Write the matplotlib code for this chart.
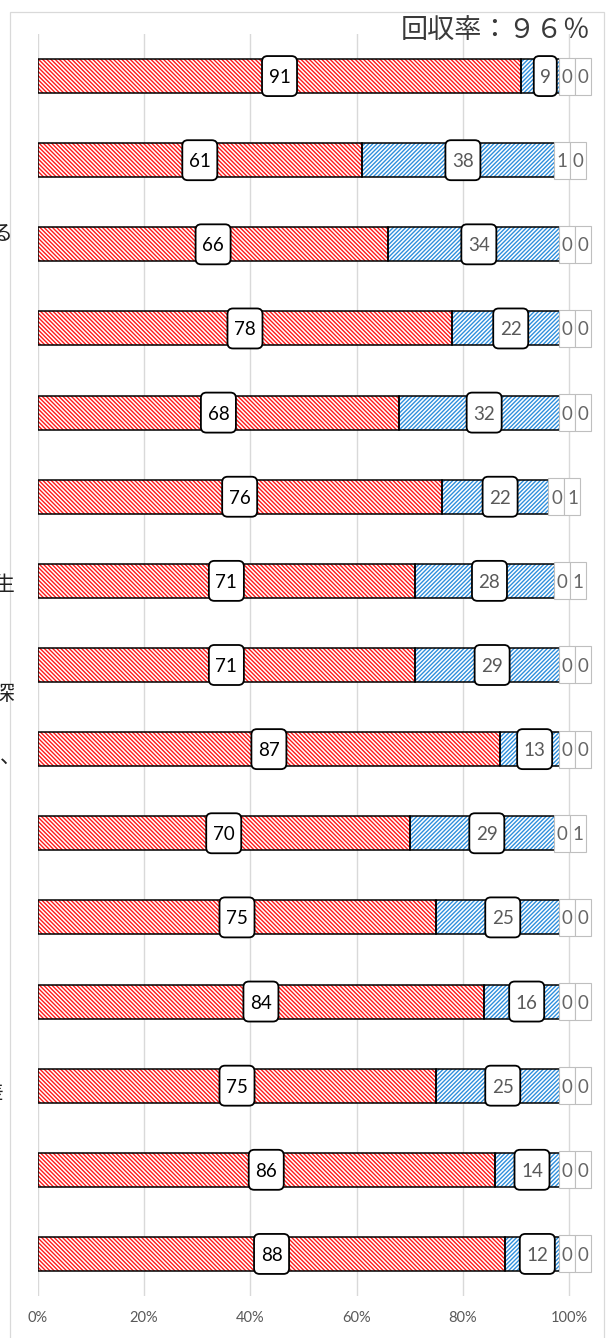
import matplotlib
matplotlib.use('Agg')
import matplotlib.pyplot as plt
from matplotlib.patches import FancyBboxPatch, Rectangle
import numpy as np

# ---------------- data ----------------
red = [91, 61, 66, 78, 68, 76, 71, 71, 87, 70, 75, 84, 75, 86, 88]
blue = [9, 38, 34, 22, 32, 22, 28, 29, 13, 29, 25, 16, 25, 14, 12]
third = [0, 1, 0, 0, 0, 0, 0, 0, 0, 0, 0, 0, 0, 0, 0]
fourth = [0, 0, 0, 0, 0, 1, 1, 0, 0, 1, 0, 0, 0, 0, 0]
tick_values = [0, 20, 40, 60, 80, 100]
tick_labels = ['0%', '20%', '40%', '60%', '80%', '100%']
title_text = '回収率：９６％'
# visible (clipped) fragments of the category labels at the left edge
fragments = ['る', '生', '深', '、', '差']

# ---------------- style / layout ----------------
W, H = 606, 1338
plt.rcParams['hatch.linewidth'] = 1.0
NUM_FONT = ['Lato', 'DejaVu Sans']
CJK_FONT = ['Noto Sans CJK JP', 'DejaVu Sans']

fig = plt.figure(figsize=(W / 100, H / 100), dpi=100)

X0_PX = 37.7           # pixel position of 0%
XMAX = 106.0
PXU = 5.315            # pixels per x unit
AX_RIGHT_PX = X0_PX + XMAX * PXU
AX_TOP_PX, AX_BOT_PX = 34.0, 1296.0
n = len(red)
PYU = (AX_BOT_PX - AX_TOP_PX) / n

ax = fig.add_axes([X0_PX / W, 1 - AX_BOT_PX / H,
                   (AX_RIGHT_PX - X0_PX) / W, (AX_BOT_PX - AX_TOP_PX) / H])
ax.set_xlim(0, XMAX)
ax.set_ylim(n - 0.5, -0.5)
for s in ax.spines.values():
    s.set_visible(False)
ax.set_axisbelow(True)
ax.set_xticks(tick_values)
ax.set_xticklabels(tick_labels, fontfamily=NUM_FONT)
ax.tick_params(axis='x', length=0, pad=11, labelsize=10.5, labelcolor='#595959')
ax.set_yticks([])
ax.grid(axis='x', color='#d9d9d9', linewidth=1.0)

y = np.arange(n)
red_a = np.array(red, float)
blue_a = np.array(blue, float)
third_a = np.array(third, float)
fourth_a = np.array(fourth, float)
BAR_H = 34.0 / PYU

RED = '#ff1a1a'
BLUE = '#2f8fdc'

# red segments
ax.barh(y, red_a, height=BAR_H, color='white', edgecolor=RED,
        hatch='\\' * 8, linewidth=0, zorder=2)
ax.barh(y, red_a, height=BAR_H, fill=False, edgecolor='black',
        linewidth=1.1, zorder=3)
# blue segments
ax.barh(y, blue_a, left=red_a, height=BAR_H, color='white', edgecolor=BLUE,
        hatch='/' * 8, linewidth=0, zorder=2)
ax.barh(y, blue_a, left=red_a, height=BAR_H, fill=False, edgecolor='black',
        linewidth=1.1, zorder=3)
# small 3rd / 4th segments
ax.barh(y, third_a, left=red_a + blue_a, height=BAR_H, color='white',
        edgecolor='#bfbfbf', linewidth=0.6, zorder=2)
ax.barh(y, fourth_a, left=red_a + blue_a + third_a, height=BAR_H,
        color='white', edgecolor='#bfbfbf', linewidth=0.6, zorder=2)

ASPECT = PXU / PYU


def label_box(xc, yc, wpx, hpx, text, ec, lw, tcolor, rounded=True):
    w = wpx / PXU
    h = hpx / PYU
    if rounded:
        style = 'round,pad=0,rounding_size=%f' % (5.5 / PXU)
    else:
        style = 'square,pad=0'
    p = FancyBboxPatch((xc - w / 2, yc - h / 2), w, h, boxstyle=style,
                       mutation_aspect=ASPECT, facecolor='white',
                       edgecolor=ec, linewidth=lw, zorder=5)
    ax.add_patch(p)
    ax.text(xc, yc, text, ha='center', va='center_baseline', fontsize=13.5,
            color=tcolor, fontfamily=NUM_FONT, zorder=6)


for i in range(n):
    r, b, t3, t4 = red[i], blue[i], third[i], fourth[i]
    wr = 35 if len(str(r)) > 1 else 23
    label_box(r / 2, i, wr, 40, str(r), 'black', 1.3, 'black')
    wb = 35 if len(str(b)) > 1 else 23
    label_box(r + b / 2, i, wb, 40, str(b), 'black', 1.3, '#595959')
    gw = 16
    left3 = r + b - 1.9
    c3 = left3 + gw / PXU / 2
    label_box(c3, i, gw, 37, str(t3), '#bfbfbf', 0.8, '#666666', rounded=False)
    label_box(c3 + gw / PXU, i, gw, 37, str(t4), '#bfbfbf', 0.8, '#666666',
              rounded=False)

# title
fig.text(591 / W, 1 - 30 / H, title_text, ha='right', va='center',
         fontsize=19.5, fontfamily=CJK_FONT, color='#3a3a3a')

# clipped category label fragments on the left edge (cut in the original too)
frag_pos = [(2, 234), (4, 585), (4, 694), (10, 757), (-7, 1092)]
for txt, (px, py) in zip(fragments, frag_pos):
    fig.text(px / W, 1 - py / H, txt, ha='center', va='center', fontsize=15,
             fontfamily=CJK_FONT, color='#222222')

# outer chart frame
fig.add_artist(Rectangle((10 / W, -0.01), (604 - 10) / W, 1 - 12 / H + 0.01,
                         transform=fig.transFigure, fill=False,
                         edgecolor='#d9d9d9', linewidth=0.9))

fig.savefig('out.png', dpi=100)
